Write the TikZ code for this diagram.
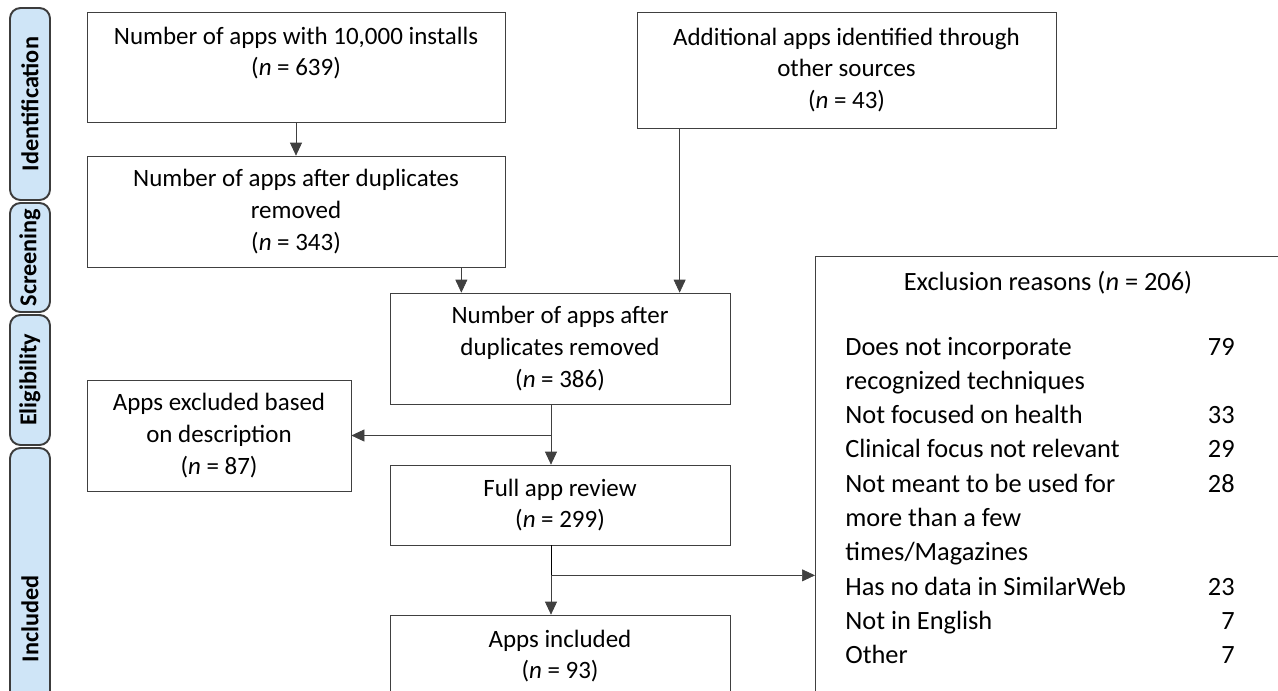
\documentclass[tikz,border=0pt]{standalone}
\usepackage{fontspec}
\setmainfont{Carlito}
\usepackage{tikz}
\usetikzlibrary{arrows.meta, positioning}
\definecolor{stagefill}{HTML}{CFE5F7}
\definecolor{stageline}{HTML}{3C3C3C}

\begin{document}
\begin{tikzpicture}[
  box/.style={rectangle, draw=black!75, align=center, font=\fontsize{14.2}{18}\selectfont, inner sep=2pt},
  stage/.style={rectangle, rounded corners=6pt, draw=stageline, line width=1.1pt, fill=stagefill, rotate=90, minimum height=0.8cm, inner sep=1pt, font=\fontsize{13.8}{15}\selectfont\bfseries},
  reason/.style={inner sep=0pt, font=\fontsize{15}{19}\selectfont},
  arrow/.style={draw=black!75, -{Triangle[length=2.6mm, width=2.4mm]}}
]
  \clip (0,0) rectangle (25.56,-13.82);

  % stage labels on the left
  \node[stage, minimum width=3.84cm] (idf) at (0.6,-2.08) {Identification};
  \node[stage, minimum width=2.18cm] (scr) at (0.6,-5.15) {Screening};
  \node[stage, minimum width=2.6cm] (elg) at (0.6,-7.6) {Eligibility};
  \node[stage, minimum width=6.84cm] (inc) at (0.6,-12.38) {Included};

  % flow boxes
  \node[box, minimum width=8.36cm, minimum height=2.2cm] (n1) at (5.92,-1.34) {Number of apps with 10,000 installs\\(\textit{n} = 639)\\\mbox{}};
  \node[box, minimum width=8.38cm, minimum height=2.32cm] (n2) at (16.93,-1.40) {Additional apps identified through\\other sources\\(\textit{n} = 43)};
  \node[box, minimum width=8.36cm, minimum height=2.22cm] (n3) at (5.92,-4.23) {Number of apps after duplicates\\removed\\(\textit{n} = 343)};
  \node[box, minimum width=6.8cm, minimum height=2.22cm] (n4) at (11.2,-6.97) {Number of apps after\\duplicates removed\\(\textit{n} = 386)};
  \node[box, minimum width=5.28cm, minimum height=2.22cm] (n5) at (4.38,-8.71) {Apps excluded based\\on description\\(\textit{n} = 87)};
  \node[box, minimum width=6.8cm, minimum height=1.6cm] (n6) at (11.2,-10.1) {Full app review\\(\textit{n} = 299)};
  \node[box, minimum width=6.8cm, minimum height=2.2cm] (n7) at (11.2,-13.4) {Apps included\\(\textit{n} = 93)\\\mbox{}};

  % exclusion reasons
  \node[box, anchor=north west, minimum width=10cm, minimum height=10cm] (excl) at (16.3,-5.12) {};
  \node[reason] (extitle) at (20.96,-5.66) {Exclusion reasons (\textit{n} = 206)};
  \foreach \txt [count=\i from 0] in {Does not incorporate, recognized techniques, Not focused on health,
      Clinical focus not relevant, Not meant to be used for, more than a few, times/Magazines,
      Has no data in SimilarWeb, Not in English, Other}
    \node[reason, anchor=base west] (r\i) at (16.9,{-7.1-0.686*\i}) {\txt};
  \foreach \num/\i in {79/0, 33/2, 29/3, 28/4, 23/7, 7/8, 7/9}
    \node[reason, anchor=base east] (c\i) at (24.7,{-7.1-0.686*\i}) {\num};

  % connectors
  \draw[arrow] (n1) -- (n3);
  \draw[arrow] ([xshift=-0.88cm]n3.south east) -- ([xshift=-0.88cm]n3.south east |- n4.north);
  \draw[arrow] ([xshift=0.86cm]n2.south west) -- ([xshift=0.86cm]n2.south west |- n4.north);
  \draw[arrow] ([xshift=-0.18cm]n4.south) |- (n5.east);
  \draw[arrow] ([xshift=-0.18cm]n4.south) -- ([xshift=-0.18cm]n6.north);
  \draw ([xshift=-0.18cm]n6.south) -- ++(0,-0.6) coordinate (split);
  \draw[arrow] (split) -- (split -| excl.west);
  \draw[arrow] (split) -- ([xshift=-0.18cm]n7.north);
\end{tikzpicture}
\end{document}
